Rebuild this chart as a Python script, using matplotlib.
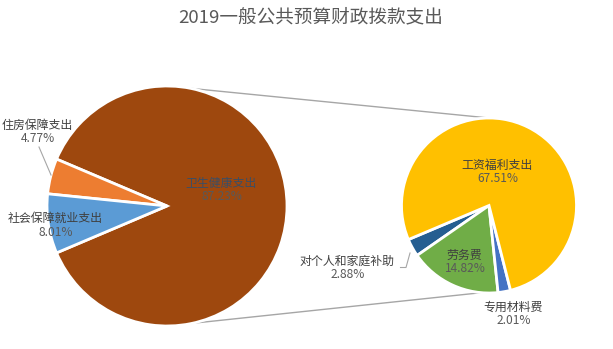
import matplotlib
matplotlib.use("Agg")
import matplotlib.pyplot as plt

plt.rcParams['font.family'] = ['Noto Sans CJK SC', 'DejaVu Sans']

# 一般公共预算支出构成
main_labels = ["卫生健康支出", "住房保障支出", "社会保障就业支出"]
main_values = [87.23, 4.77, 8.01]
main_colors = ["#9E480E", "#ED7D31", "#5B9BD5"]

# 卫生健康支出明细
sub_labels = ["对个人和家庭补助", "劳务费", "专用材料费", "工资福利支出"]
sub_values = [2.88, 14.82, 2.01, 67.51]
sub_colors = ["#255E91", "#70AD47", "#4472C4", "#FFC000"]

W, H = 613, 349
fig = plt.figure(figsize=(W / 100, H / 100), dpi=100)
ax = fig.add_axes([0, 0, 1, 1])


def py(y):
    # 像素坐标 -> 数据坐标 (y 轴向上)
    return H - y


main_c, main_r = (167, py(206)), 120
sub_c, sub_r = (489, py(205.5)), 87.5

wp = dict(edgecolor="white", linewidth=2)
ax.pie(main_values, colors=main_colors, startangle=203, center=main_c,
       radius=main_r, wedgeprops=wp, frame=True)
ax.pie(sub_values, colors=sub_colors, startangle=202.9, center=sub_c,
       radius=sub_r, wedgeprops=wp, frame=True)

# 两个饼之间的连接线
line_kw = dict(color="#A6A6A6", linewidth=1, zorder=0)
ax.plot([main_c[0], sub_c[0]], [main_c[1] + main_r, sub_c[1] + sub_r], **line_kw)
ax.plot([main_c[0], sub_c[0] - 6], [main_c[1] - main_r, sub_c[1] - sub_r + 0.5], **line_kw)

name_color = "#404040"
pct_color = "#595959"
fs = 8.6


def label(x, y, name, val, color=name_color):
    ax.text(x, py(y), name, ha="center", va="center", fontsize=fs, color=color)
    ax.text(x + 1, py(y + 14), f"{val:.2f}%", ha="center", va="center",
            fontsize=fs, color=pct_color)


label(221, 183, main_labels[0], main_values[0], color="#3A4E66")
label(37, 125, main_labels[1], main_values[1])
label(55, 218, main_labels[2], main_values[2])

label(347, 261, sub_labels[0], sub_values[0])
label(464, 255, sub_labels[1], sub_values[1])
label(513, 307, sub_labels[2], sub_values[2])
label(497, 165, sub_labels[3], sub_values[3])

# 引导线
lead_kw = dict(color="#A6A6A6", linewidth=0.8)
ax.plot([39, 51], [py(147), py(175)], **lead_kw)
ax.plot([400.5, 406, 410], [py(267.5), py(267.5), py(253)], **lead_kw)

ax.text(311, py(17), "2019一般公共预算财政拨款支出", ha="center", va="center",
        fontsize=13.4, color="#595959")

ax.set_xlim(0, W)
ax.set_ylim(0, H)
ax.set_aspect("equal")
ax.axis("off")

fig.savefig("out.png", dpi=100)
